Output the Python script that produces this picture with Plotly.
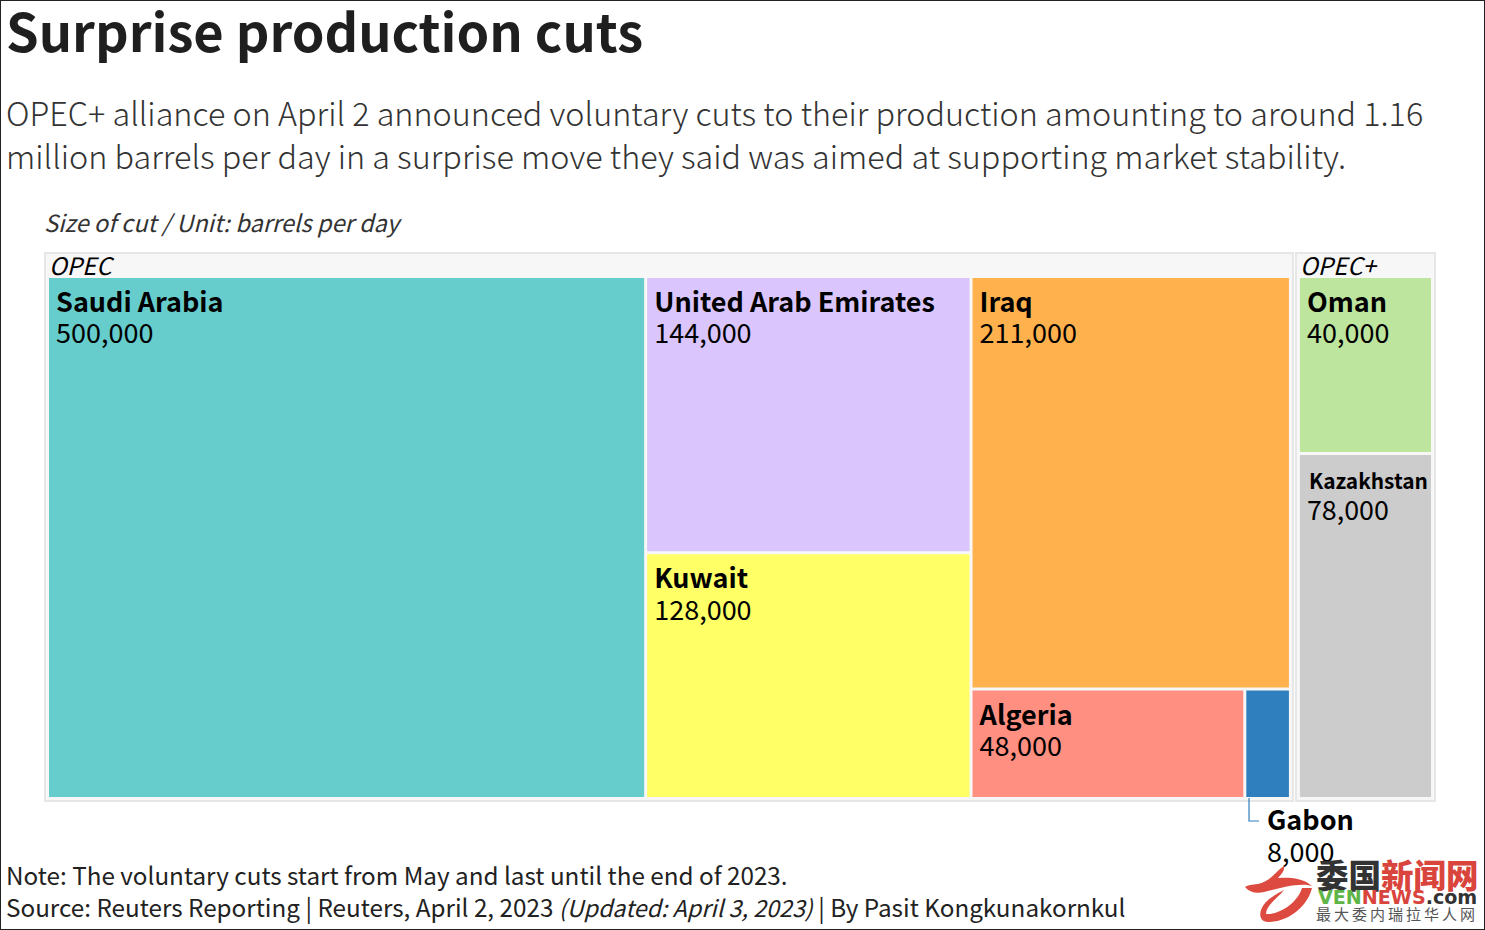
import plotly.graph_objects as go

W, H = 1485, 930
FONT = "Noto Sans CJK SC"

labels = ["OPEC", "OPEC+", "Saudi Arabia", "United Arab Emirates", "Kuwait", "Iraq", "Algeria", "Gabon", "Oman", "Kazakhstan"]
parents = ["", "", "OPEC", "OPEC", "OPEC", "OPEC", "OPEC", "OPEC", "OPEC+", "OPEC+"]
values = [0, 0, 500000, 144000, 128000, 211000, 48000, 8000, 40000, 78000]
colors = ["#f7f7f7", "#f7f7f7", "#66cdcc", "#dac6fc", "#ffff66", "#ffb14e", "#ff8f80", "#2f7fbf", "#bde59e", "#cccccc"]

IND = "<span style='font-size:18px'>&nbsp;</span>"
IND_TALL = "<span style='font-size:27px'>&nbsp;</span>"
texts = []
for lab, val in zip(labels, values):
    if lab == "Gabon" or val == 0:
        texts.append("&nbsp;")
    elif lab == "Kazakhstan":
        texts.append(f"{IND_TALL}<b><span style='font-size:21px'>{lab}</span></b><br>"
                     f"{IND}<span style='font-size:27px'>{val:,}</span>")
    else:
        texts.append(f"{IND}<b><span style='font-size:27px'>{lab}</span></b><br>"
                     f"{IND}<span style='font-size:27px'>{val:,}</span>")

# Group headers are drawn as annotations, because a treemap branch label keeps a fixed small font.
shown = ["\u00a0" if v == 0 else lab for lab, v in zip(labels, values)]
line_w = [2 if v == 0 else 0 for v in values]


def px(x):
    return x / W


def py(y):
    return 1 - y / H


fig = go.Figure(go.Treemap(
    ids=labels,
    labels=shown,
    parents=parents,
    values=values,
    text=texts,
    customdata=labels,
    texttemplate="%{text}",
    textposition="top left",
    textfont=dict(family=FONT, size=24.2, color="#000000"),
    sort=False,
    branchvalues="remainder",
    tiling=dict(packing="binary", pad=3),
    pathbar=dict(visible=False),
    root=dict(color="rgba(0,0,0,0)"),
    marker=dict(colors=colors, pad=dict(t=25, l=4, r=4, b=4),
                line=dict(color="#e6e6e6", width=line_w)),
    domain=dict(x=[px(41), px(1439)], y=[py(805), py(228)]),
    hovertemplate="%{customdata}: %{value:,}<extra></extra>",
))

annotations = []


def note(x, y, text, size, color="#000000", family=FONT, weight=None):
    f = dict(family=family, size=size, color=color)
    if weight:
        f["weight"] = weight
    annotations.append(dict(xref="paper", yref="paper", x=px(x - 3), y=py(y - 2), text=text, showarrow=False,
                            xanchor="left", yanchor="middle", align="left", font=f))


note(7, 31, "<b>Surprise production cuts</b>", 52.4, "#1f1f1f")
note(7, 113, "OPEC+ alliance on April 2 announced voluntary cuts to their production amounting to around 1.16", 32.35, "#333333", weight=300)
note(7, 157, "million barrels per day in a surprise move they said was aimed at supporting market stability.", 32.35, "#333333", weight=300)
note(45, 224, "<i>Size of cut / Unit: barrels per day</i>", 23.6, "#333333")
note(50, 267, "<i>OPEC</i>", 24)
note(1301, 267, "<i>OPEC+</i>", 24)
note(1268, 820, "<b>Gabon</b>", 27)
note(1268, 852, "8,000", 27)
note(7, 876, "Note: The voluntary cuts start from May and last until the end of 2023.", 24.25, "#222222")
note(7, 908, "Source: Reuters Reporting | Reuters, April 2, 2023 <span style='font-size:23.3px'><i>(Updated: April 3, 2023)</i></span> | By Pasit Kongkunakornkul", 24.25, "#222222")
note(1317, 875, "<span style='color:#333333'>委国</span><span style='color:#d9453c'>新闻网</span>", 32.5, weight=900)
note(1319, 899, "<b><span style='color:#5fb548'>VEN</span><span style='color:#d9453c'>NEWS</span><span style='color:#333333'>.com</span></b>", 19.1, family="DejaVu Sans")
note(1317, 915, "\u2009".join("最大委内瑞拉华人网"), 15, "#555555")


def svg(cmds):
    out = []
    for c in cmds:
        if isinstance(c, str):
            out.append(c)
        else:
            out.append(f"{px(c[0]):.5f} {py(c[1]):.5f}")
    return " ".join(out)


logo_top = svg(["M", (1284, 866), "C", (1275, 872), (1270, 882), (1258, 884), "C", (1252, 885), (1248, 885), (1245, 887),
                "C", (1249, 892), (1256, 894), (1264, 892), "C", (1280, 888), (1300, 882), (1312, 886),
                "C", (1300, 876), (1285, 878), (1278, 878), "C", (1282, 874), (1285, 870), (1284, 866), "Z"])
logo_low = svg(["M", (1312, 888), "C", (1308, 905), (1290, 922), (1268, 922), "C", (1258, 922), (1258, 910), (1266, 902),
                "C", (1272, 896), (1280, 892), (1284, 890), "C", (1278, 898), (1266, 905), (1266, 914),
                "C", (1280, 915), (1298, 902), (1302, 888), "Z"])

shapes = [
    dict(type="rect", xref="paper", yref="paper", x0=0, x1=1, y0=0, y1=1, line=dict(color="#222222", width=2)),
    dict(type="path", xref="paper", yref="paper",
         path=svg(["M", (1249, 798), "L", (1249, 821), "L", (1259, 821)]),
         line=dict(color="#2f7fbf", width=1.2)),
    dict(type="path", xref="paper", yref="paper", fillcolor="#dd4a3f", line=dict(width=0), path=logo_top),
    dict(type="path", xref="paper", yref="paper", fillcolor="#dd4a3f", line=dict(width=0), path=logo_low),
]

fig.update_layout(width=W, height=H, margin=dict(l=0, r=0, t=0, b=0), paper_bgcolor="#ffffff",
                  annotations=annotations, shapes=shapes, font=dict(family=FONT))
fig.write_html("out.html", config=dict(displayModeBar=False), post_script="document.body.style.margin='0';")
